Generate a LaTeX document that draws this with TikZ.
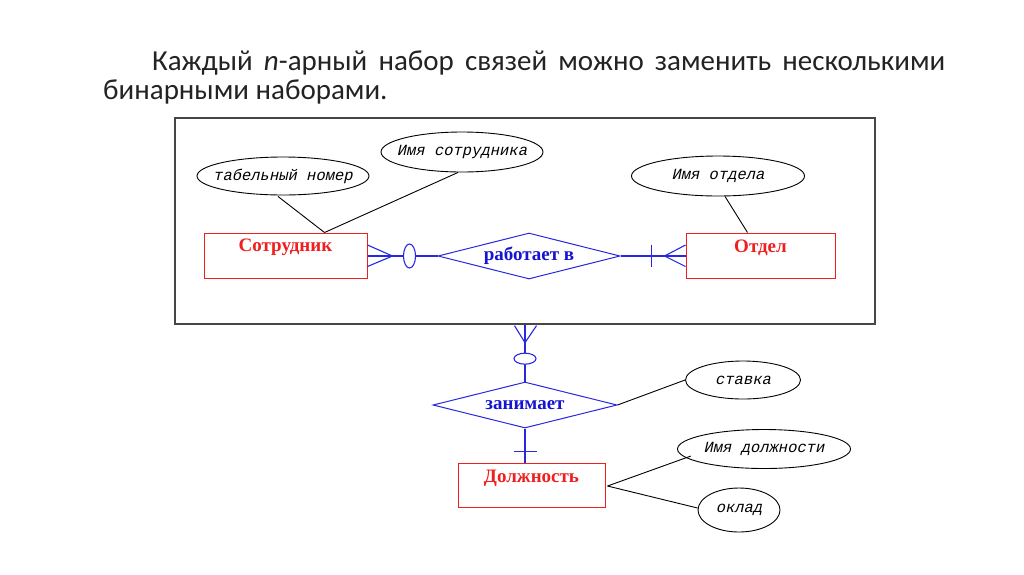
\documentclass[tikz,border=0pt]{standalone}
\usepackage{fontspec}
\setmainfont{Carlito}
\newfontfamily\erserif{Liberation Serif}
\newfontfamily\ermonoit{Liberation Mono}[FakeSlant=0.22]
\usetikzlibrary{shapes.geometric,calc}
\definecolor{entred}{RGB}{240,30,30}
\definecolor{relblue}{RGB}{40,40,225}
\definecolor{reltext}{RGB}{20,20,210}
\definecolor{framegray}{RGB}{70,70,70}
\definecolor{titlegray}{RGB}{35,35,35}
\begin{document}
\begin{tikzpicture}[x=1pt,y=-1pt,
  entity/.style={draw=entred, line width=1pt, rectangle, inner sep=0pt, fill=white},
  entfont/.style={text=entred, font=\erserif\bfseries\fontsize{19}{21}\selectfont},
  relation/.style={draw=relblue, line width=1pt, diamond, shape aspect=4, inner sep=0pt, fill=white,
     text=reltext, font=\erserif\bfseries\fontsize{19}{21}\selectfont},
  attr/.style={draw=black, line width=0.9pt, ellipse, inner sep=0pt, fill=white},
  attrfont/.style={font=\ermonoit\fontsize{15.5}{17}\selectfont},
  attrline/.style={draw=black, line width=0.9pt},
  relline/.style={draw=relblue, line width=1.1pt},
  opt/.style={draw=relblue, line width=1.1pt, ellipse, inner sep=0pt, fill=white},
  titlefont/.style={text=titlegray, font=\fontsize{29}{34}\selectfont, inner sep=0pt}
]
\useasboundingbox (0,0) rectangle (1024,574);
\fill[white] (0,0) rectangle (1024,574);

% title (justified first line)
\node[titlefont, anchor=base west] (t1) at (152,70) {\hbox to 793pt{Каждый \textit{n}-арный набор связей можно заменить несколькими}};
\node[titlefont, anchor=base west] (t2) at (103,99) {бинарными наборами.};

% frame
\node[draw=framegray, line width=1.3pt, rectangle, inner sep=0pt,
      minimum width=700, minimum height=206] (frame) at (525,221) {};

% attributes
\node[attr, minimum width=172, minimum height=38, label={[attrfont]center:табельный номер}] (tab) at (283,176) {};
\node[attr, minimum width=162, minimum height=40, label={[attrfont]center:Имя сотрудника}] (ims) at (462,152) {};
\node[attr, minimum width=173, minimum height=40, label={[attrfont]center:Имя отдела}] (imo) at (718,176) {};
\node[attr, minimum width=115, minimum height=38, label={[attrfont]center:ставка}] (stav) at (743,380) {};
\node[attr, minimum width=173, minimum height=39, label={[attrfont]center:Имя должности}] (imd) at (764,449) {};
\node[attr, minimum width=82, minimum height=44, label={[attrfont]center:оклад}] (okl) at (739,510) {};

% entities
\node[entity, minimum width=163, minimum height=45, label={[entfont,yshift=8pt]center:Сотрудник}] (sotr) at (285.5,255.5) {};
\node[entity, minimum width=149, minimum height=45, label={[entfont,yshift=8pt]center:Отдел}] (otd) at (760.5,255.5) {};
\node[entity, minimum width=147, minimum height=44, label={[entfont,yshift=7pt]center:Должность}] (dol) at (531.5,485) {};

% relationships
\node[relation, minimum width=182, minimum height=46] (rab) at (529,256) {работает в};
\node[relation, minimum width=184, minimum height=46] (zan) at (525,405) {занимает};

% attribute lines
\coordinate (sotrtop) at ($(sotr.north)+(39,0)$);
\draw[attrline] (tab.south)++(-5,1) -- (sotrtop);
\draw[attrline] ($(ims.south)+(-4,0)$) -- (sotrtop);
\draw[attrline] ($(imo.south)+(7,0)$) -- ($(otd.north)+(-13,0)$);
\coordinate (dolr) at ($(dol.east)+(2,1)$);
\draw[attrline] (zan.east) -- (stav.west);
\draw[attrline] (dolr) -- ($(imd.south west)!0.5!(imd.west)+(1,0)$);
\draw[attrline] (dolr) -- ($(okl.west)+(0,-2)$);

% Сотрудник -- работает в  (many, optional)
\coordinate (c1) at ($(sotr.east)+(25,0.5)$);
\draw[relline] (sotr.east) ++(0,0.5) -- (rab.west);
\draw[relline] ($(sotr.east)+(0,-10.5)$) -- (c1) -- ($(sotr.east)+(0,11)$);
\node[opt, minimum width=12, minimum height=24] (o1) at ($(sotr.east)+(42,0.5)$) {};

% работает в -- Отдел  (many, mandatory)
\coordinate (c2) at ($(otd.west)+(-21,0.5)$);
\draw[relline] (rab.east) -- ($(otd.west)+(0,0.5)$);
\draw[relline] ($(otd.west)+(0,-10.5)$) -- (c2) -- ($(otd.west)+(0,11)$);
\draw[relline] ($(otd.west)+(-34,-11)$) -- ($(otd.west)+(-34,11.5)$);

% aggregate -- занимает (many, optional)
\coordinate (ftop) at (frame.south -| zan.north);
\coordinate (c3) at ($(ftop)+(0,18)$);
\draw[relline] (ftop) -- (zan.north);
\draw[relline] ($(ftop)+(-10.5,1)$) -- (c3) -- ($(ftop)+(11.5,1)$);
\node[opt, minimum width=22, minimum height=11] (o2) at ($(ftop)+(0,34)$) {};

% занимает -- Должность (one, mandatory)
\draw[relline] (zan.south) -- (zan.south |- dol.north);
\draw[relline] ($(zan.south)+(-11,23)$) -- ($(zan.south)+(12,23)$);
\end{tikzpicture}
\end{document}
